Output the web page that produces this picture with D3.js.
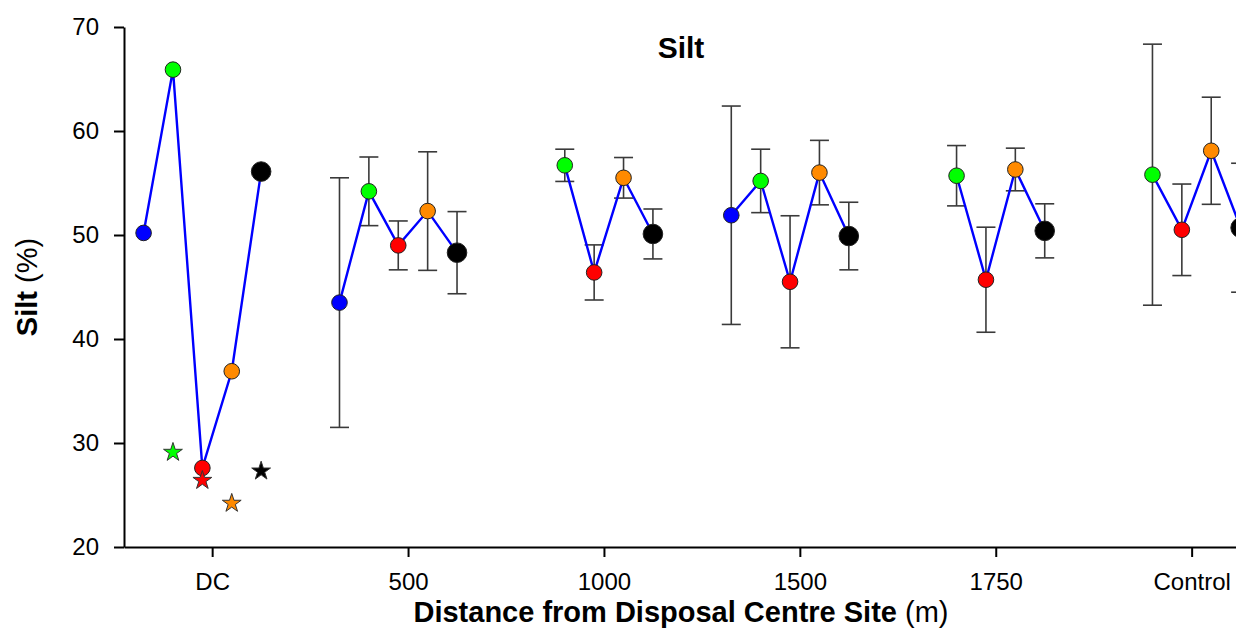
<!DOCTYPE html>
<html>
<head>
<meta charset="utf-8">
<script src="https://cdn.jsdelivr.net/npm/d3@7"></script>
<style>
	body{margin:0;background:#fff;}
	svg{display:block;font-family:"Liberation Sans",Arial,sans-serif;}
</style>
</head>
<body>
<div id="chart"></div>
<script>
// sites along the x axis
const sites = ["DC","500","1000","1500","1750","Control"]

// one entry per sampling series, null where nothing was measured
const seriesNames = ["blue","green","red","orange","black"]
const seriesColors = ["#0000ff","#00ff00","#ff0000","#ff8a00","#000000"]
const seriesOffsets = [-0.35,-0.2,-0.05,0.1,0.25]

const siltBlue   = [50.2, 43.5, null, 51.9, null, null]
const siltGreen  = [65.9, 54.2, 56.7, 55.2, 55.7, 55.8]
const siltRed    = [27.6, 49.0, 46.4, 45.5, 45.7, 50.5]
const siltOrange = [36.9, 52.3, 55.5, 56.0, 56.3, 58.1]
const siltBlack  = [56.1, 48.3, 50.1, 49.9, 50.4, 50.7]

const errBlue   = [null, 12.0, null, 10.5, null, null]
const errGreen  = [null, 3.3, 1.55, 3.05, 2.9, 12.55]
const errRed    = [null, 2.35, 2.65, 6.35, 5.05, 4.4]
const errOrange = [null, 5.7, 1.95, 3.1, 2.05, 5.15]
const errBlack  = [null, 3.95, 2.4, 3.25, 2.6, 6.2]

// star markers at DC only
const starSeries = ["green","red","orange","black"]
const starValues = [29.1, 26.4, 24.2, 27.3]

const yTicks = [20,30,40,50,60,70]

const means = [siltBlue, siltGreen, siltRed, siltOrange, siltBlack]
const errs = [errBlue, errGreen, errRed, errOrange, errBlack]

let width = 1236
let height = 628

const svg = d3.select("#chart")
	.append("svg")
	.attr("width", width)
	.attr("height", height)

let x = d3.scaleLinear().domain([-0.45, 5.4]).range([124, 1270])
let y = d3.scaleLinear().domain([20, 70]).range([547, 27])

// flatten to points
var points = []
means.forEach((arr,s)=>{
	arr.forEach((v,i)=>{
		if(v !== null){
			points.push({series:seriesNames[s], color:seriesColors[s], site:i, x:i+seriesOffsets[s], value:v, err:errs[s][i]})
		}
	})
})

// axes
svg.append("g")
	.attr("transform","translate(124,0)")
	.call(d3.axisLeft(y).tickValues(yTicks).tickSize(10).tickSizeOuter(0).tickPadding(15))
svg.append("g")
	.attr("transform","translate(0,547)")
	.call(d3.axisBottom(x).tickValues(d3.range(sites.length)).tickFormat(i=>sites[i]).tickSize(10).tickSizeOuter(0).tickPadding(16))

svg.selectAll(".domain, .tick line").attr("stroke","#000").attr("stroke-width",2)
svg.selectAll(".tick text").attr("font-size",24).attr("fill","#000").attr("font-family","'Liberation Sans',Arial,sans-serif")

// error bars
const bars = svg.append("g").selectAll("g")
	.data(points.filter(d=>d.err !== null))
	.enter().append("g")
	.attr("stroke","#3a3a3a")
	.attr("stroke-width",1.6)
bars.append("line")
	.attr("x1",d=>x(d.x)).attr("x2",d=>x(d.x))
	.attr("y1",d=>y(d.value+d.err)).attr("y2",d=>y(d.value-d.err))
bars.append("line")
	.attr("x1",d=>x(d.x)-9.5).attr("x2",d=>x(d.x)+9.5)
	.attr("y1",d=>y(d.value+d.err)).attr("y2",d=>y(d.value+d.err))
bars.append("line")
	.attr("x1",d=>x(d.x)-9.5).attr("x2",d=>x(d.x)+9.5)
	.attr("y1",d=>y(d.value-d.err)).attr("y2",d=>y(d.value-d.err))

// blue line inside each site
const line = d3.line().x(d=>x(d.x)).y(d=>y(d.value))
sites.forEach((s,i)=>{
	let grp = points.filter(d=>d.site == i).sort((a,b)=>a.x-b.x)
	svg.append("path")
		.datum(grp)
		.attr("d", line)
		.attr("fill","none")
		.attr("stroke","#0000ff")
		.attr("stroke-width",2.4)
})

// circles
svg.append("g").selectAll("circle")
	.data(points)
	.enter().append("circle")
	.attr("cx",d=>x(d.x))
	.attr("cy",d=>y(d.value))
	.attr("r",d=>d.series == "black" ? 9.8 : 7.8)
	.attr("fill",d=>d.color)
	.attr("stroke","#222")
	.attr("stroke-width",1)

// stars
svg.append("g").selectAll("path")
	.data(starValues)
	.enter().append("path")
	.attr("d", d3.symbol().type(d3.symbolStar).size(110))
	.attr("transform",(d,i)=>{
		let s = seriesNames.indexOf(starSeries[i])
		return "translate("+x(seriesOffsets[s])+","+y(d)+")"
	})
	.attr("fill",(d,i)=>seriesColors[seriesNames.indexOf(starSeries[i])])
	.attr("stroke","#333")
	.attr("stroke-width",1)

// titles
svg.append("text")
	.attr("x",681).attr("y",58)
	.attr("text-anchor","middle")
	.attr("font-size",30).attr("font-weight","bold")
	.text("Silt")

const yt = svg.append("text")
	.attr("transform","translate(37,287) rotate(-90)")
	.attr("text-anchor","middle")
	.attr("font-size",29)
yt.append("tspan").attr("font-weight","bold").text("Silt")
yt.append("tspan").text(" (%)")

const xt = svg.append("text")
	.attr("x",681).attr("y",622)
	.attr("text-anchor","middle")
	.attr("font-size",29)
xt.append("tspan").attr("font-weight","bold").text("Distance from Disposal Centre Site")
xt.append("tspan").text(" (m)")
</script>
</body>
</html>
